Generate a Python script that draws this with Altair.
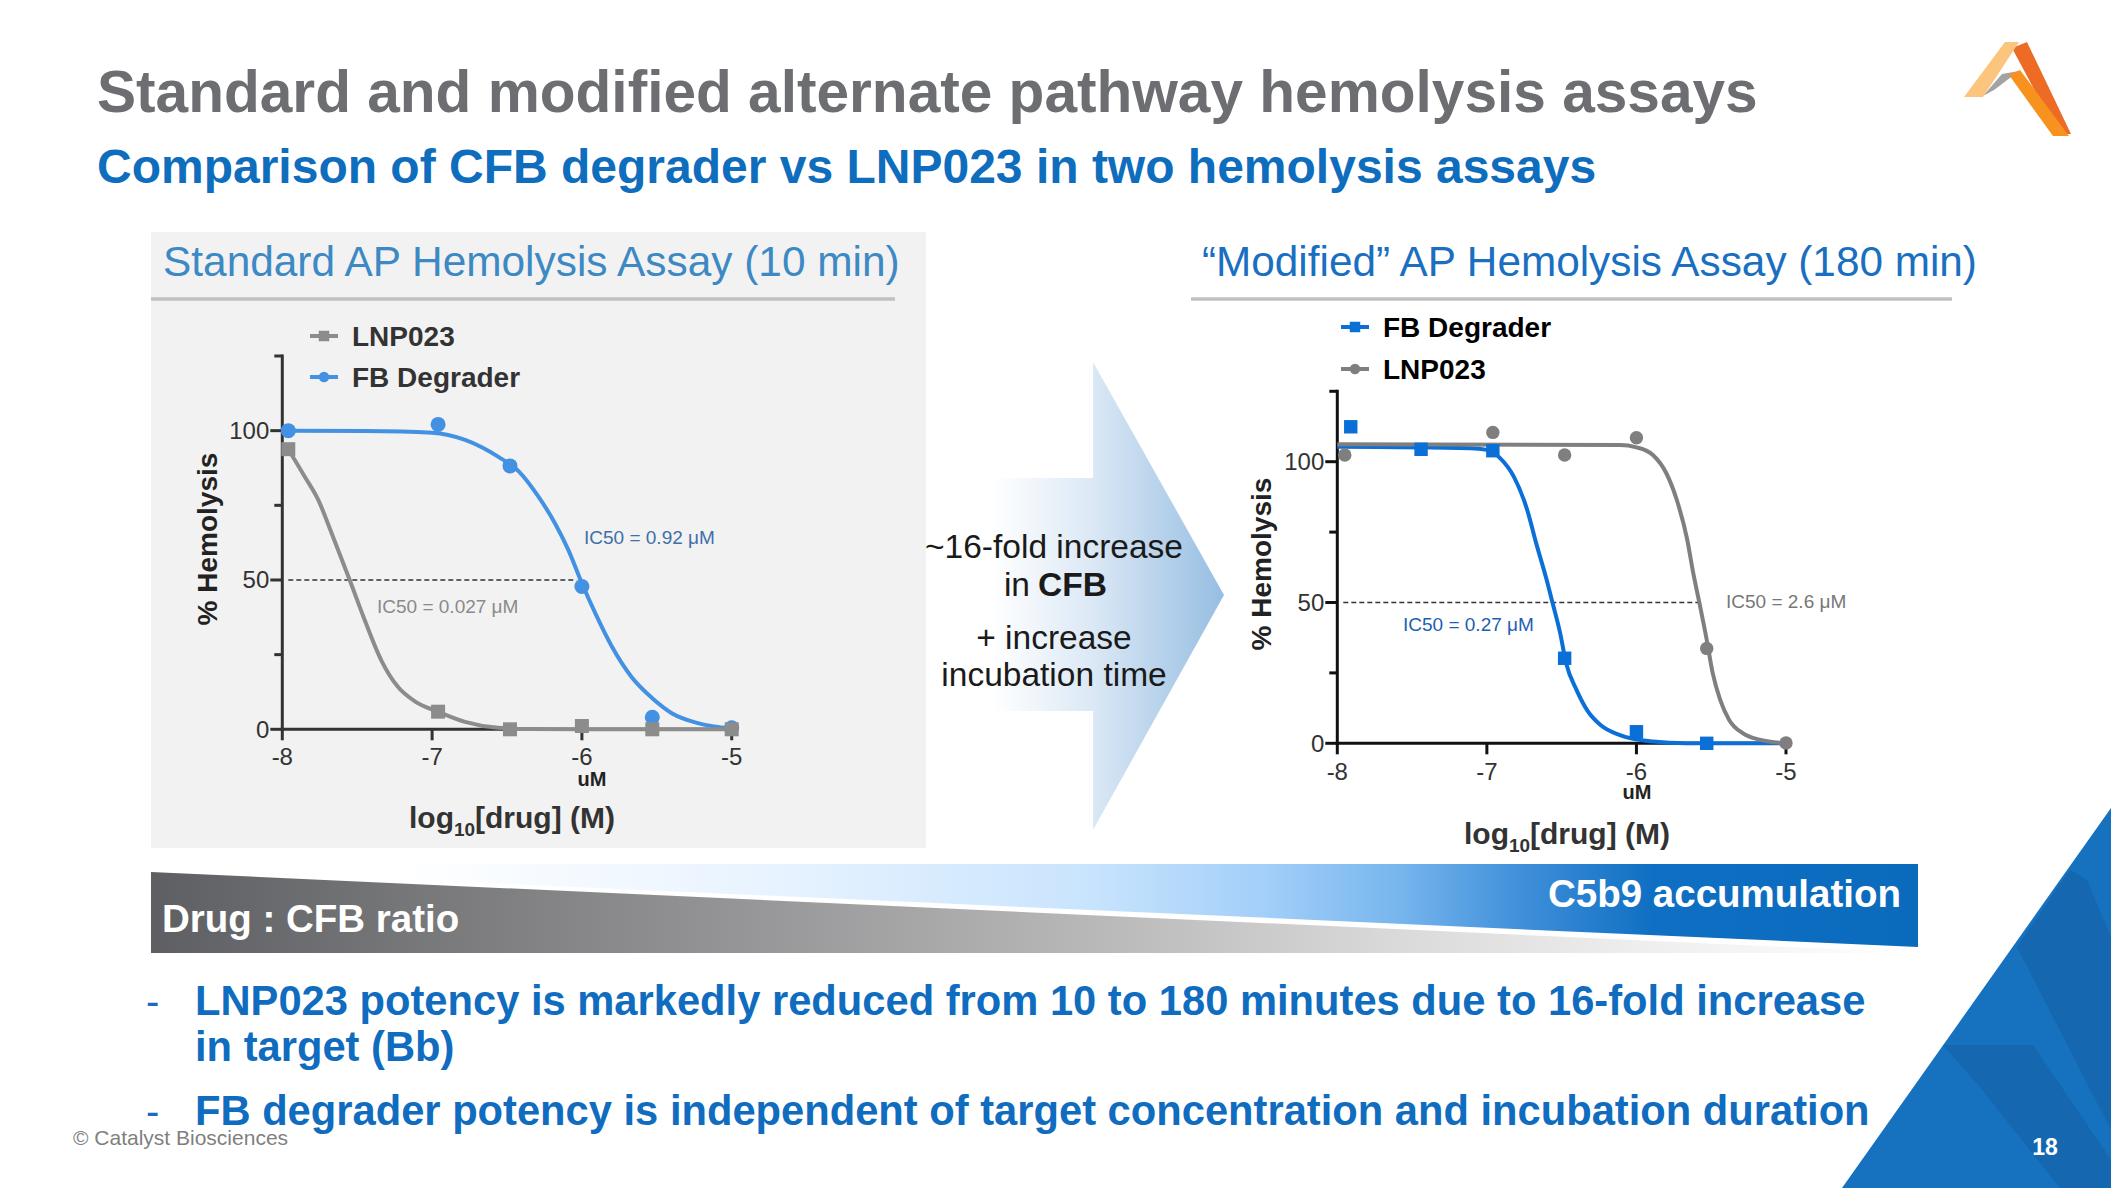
import math
import altair as alt
import pandas as pd

W, H = 2111, 1188
FONT = "Liberation Sans"

# ======================= DATA =======================
STD_SERIES = ["LNP023", "FB Degrader"]          # legend order, standard assay
MOD_SERIES = ["FB Degrader", "LNP023"]          # legend order, modified assay

# Standard AP hemolysis assay (10 min) - measured points (log10 M, % hemolysis)
STD_LNP_PTS_X = [-7.96, -6.96, -6.48, -6.00, -5.53, -5.00]
STD_LNP_PTS_Y = [93.8, 5.9, 0.0, 1.1, 0.0, 0.0]
STD_FB_PTS_X = [-7.96, -6.96, -6.48, -6.00, -5.53, -5.00]
STD_FB_PTS_Y = [100.0, 102.1, 88.2, 47.8, 4.0, 0.5]
# fitted curves
STD_LNP_FIT_X = [-7.96, -7.85, -7.76, -7.67, -7.55, -7.45, -7.34, -7.23, -7.11, -6.96,
                 -6.78, -6.56, -6.34, -6.00, -5.50, -5.00]
STD_LNP_FIT_Y = [93.8, 84.6, 76.8, 65.6, 50.0, 36.6, 23.2, 14.3, 9.2, 5.9,
                 2.5, 0.5, 0.1, 0.0, 0.0, 0.0]
STD_FB_FIT_X = [-7.96, -7.45, -7.00, -6.78, -6.56, -6.42, -6.29, -6.18, -6.09, -6.00,
                -5.91, -5.80, -5.67, -5.53, -5.40, -5.22, -5.00]
STD_FB_FIT_Y = [100.0, 99.9, 99.3, 96.9, 91.3, 86.3, 77.9, 69.0, 60.0, 48.9,
                38.8, 27.7, 17.6, 10.4, 5.4, 2.0, 0.3]

# "Modified" AP hemolysis assay (180 min)
MOD_FB_PTS_X = [-7.91, -7.44, -6.96, -6.48, -6.00, -5.53]
MOD_FB_PTS_Y = [112.4, 104.4, 103.9, 30.2, 4.1, 0.0]
MOD_LNP_PTS_X = [-7.95, -6.96, -6.48, -6.00, -5.53, -5.00]
MOD_LNP_PTS_Y = [102.4, 110.4, 102.4, 108.5, 33.7, 0.1]
MOD_FB_FIT_X = [-8.00, -7.11, -7.00, -6.91, -6.82, -6.73, -6.67, -6.60, -6.56, -6.51,
                -6.47, -6.40, -6.33, -6.24, -6.11, -5.89, -5.67, -5.00]
MOD_FB_FIT_Y = [105.3, 104.8, 104.2, 101.2, 94.7, 82.8, 71.0, 58.0, 49.7, 39.1,
                28.4, 18.9, 11.8, 6.5, 2.9, 0.6, 0.0, 0.0]
MOD_LNP_FIT_X = [-8.00, -6.11, -6.00, -5.89, -5.80, -5.73, -5.66, -5.62, -5.58, -5.53,
                 -5.49, -5.44, -5.38, -5.29, -5.17, -5.00]
MOD_LNP_FIT_Y = [106.2, 105.9, 105.1, 102.4, 95.9, 86.4, 72.2, 60.4, 50.1, 36.7,
                 24.9, 15.4, 8.3, 3.6, 1.2, 0.0]

STD_IC50_UM = {"LNP023": 0.027, "FB Degrader": 0.92}
MOD_IC50_UM = {"FB Degrader": 0.27, "LNP023": 2.6}

X_TICKS = [-8, -7, -6, -5]
X_TICK_LABELS = ["-8", "-7", "-6", "-5"]
Y_TICKS = [0, 50, 100]
Y_TICK_LABELS = ["0", "50", "100"]
Y_MINOR = [25, 75, 125]
X_DOMAIN = [-8, -5]
Y_DOMAIN = [0, 125]

TITLE = "Standard and modified alternate pathway hemolysis assays"
SUBTITLE = "Comparison of CFB degrader vs LNP023 in two hemolysis assays"
STD_TITLE = "Standard AP Hemolysis Assay (10 min)"
MOD_TITLE = "\u201cModified\u201d AP Hemolysis Assay (180 min)"
ARROW_LINES = ["~16-fold increase", "+ increase", "incubation time"]
BULLETS = ["LNP023 potency is markedly reduced from 10 to 180 minutes due to 16-fold increase",
           "in target (Bb)",
           "FB degrader potency is independent of target concentration and incubation duration"]

# ======================= LAYOUT (pixels) =======================
ONE = pd.DataFrame({"k": [0]})


def poly_rows(pts):
    xs = sorted(set(p[0] for p in pts))
    rows = []
    n = len(pts)
    for x in xs:
        ys = []
        for i in range(n):
            (x1, y1), (x2, y2) = pts[i], pts[(i + 1) % n]
            if abs(x1 - x2) < 1e-9:
                if abs(x - x1) < 1e-9:
                    ys += [y1, y2]
            elif min(x1, x2) - 1e-9 <= x <= max(x1, x2) + 1e-9:
                t = (x - x1) / (x2 - x1)
                ys.append(y1 + t * (y2 - y1))
        rows.append({"px": x, "top": min(ys), "bot": max(ys)})
    return pd.DataFrame(rows)


def poly(pts, fill):
    return alt.Chart(poly_rows(pts)).mark_area(orient="vertical", fill=fill, opacity=1, strokeWidth=0).encode(
        x=alt.X("px:Q", scale=None, axis=None),
        y=alt.Y("top:Q", scale=None, axis=None),
        y2="bot:Q")


def grad(stops):
    return alt.LinearGradient(gradient="linear", x1=0, x2=1, y1=0, y2=0,
                              stops=[alt.GradientStop(offset=o, color=c) for o, c in stops])


def texts(rows, **kw):
    df = pd.DataFrame(rows, columns=["px", "py", "text"])
    props = dict(font=FONT, baseline="alphabetic", align="left")
    props.update(kw)
    return alt.Chart(df).mark_text(**props).encode(
        x=alt.X("px:Q", scale=None, axis=None),
        y=alt.Y("py:Q", scale=None, axis=None),
        text="text:N")


def rect(x, x2, y, y2, color):
    return alt.Chart(ONE).mark_rect(color=color, opacity=1).encode(
        x=alt.value(x), x2=alt.value(x2), y=alt.value(y), y2=alt.value(y2))


def hline(x, x2, y, color, width):
    return alt.Chart(ONE).mark_rule(color=color, strokeWidth=width).encode(
        x=alt.value(x), x2=alt.value(x2), y=alt.value(y))


def plot_layers(cfg):
    XS = alt.Scale(domain=X_DOMAIN, range=[cfg["x0"], cfg["x1"]], nice=False, zero=False)
    YS = alt.Scale(domain=Y_DOMAIN, range=[cfg["y0"], cfg["y125"]], nice=False, zero=False)
    ac = cfg["axis_color"]
    L = []

    # axis lines
    L.append(alt.Chart(ONE).mark_rule(color=ac, strokeWidth=3, strokeCap="square").encode(
        x=alt.X(datum=X_DOMAIN[0], scale=XS, axis=None),
        y=alt.Y(datum=Y_DOMAIN[0], scale=YS, axis=None), y2=alt.Y2(datum=Y_DOMAIN[1])))
    L.append(alt.Chart(ONE).mark_rule(color=ac, strokeWidth=3, strokeCap="square").encode(
        x=alt.X(datum=X_DOMAIN[0], scale=XS, axis=None), x2=alt.X2(datum=X_DOMAIN[1]),
        y=alt.Y(datum=0, scale=YS, axis=None)))
    # y ticks
    L.append(alt.Chart(pd.DataFrame({"v": Y_TICKS})).mark_rule(color=ac, strokeWidth=3, x2Offset=-12).encode(
        x=alt.X(datum=X_DOMAIN[0], scale=XS, axis=None), x2=alt.X2(datum=X_DOMAIN[0]),
        y=alt.Y("v:Q", scale=YS, axis=None)))
    L.append(alt.Chart(pd.DataFrame({"v": Y_MINOR})).mark_rule(color=ac, strokeWidth=3, x2Offset=-8).encode(
        x=alt.X(datum=X_DOMAIN[0], scale=XS, axis=None), x2=alt.X2(datum=X_DOMAIN[0]),
        y=alt.Y("v:Q", scale=YS, axis=None)))
    # x ticks
    L.append(alt.Chart(pd.DataFrame({"v": X_TICKS})).mark_rule(color=ac, strokeWidth=3, y2Offset=11).encode(
        x=alt.X("v:Q", scale=XS, axis=None),
        y=alt.Y(datum=0, scale=YS, axis=None), y2=alt.Y2(datum=0)))
    # tick labels
    L.append(alt.Chart(pd.DataFrame({"v": Y_TICKS, "lab": Y_TICK_LABELS})).mark_text(
        font=FONT, fontSize=24, color="#333333", align="right", baseline="alphabetic",
        xOffset=-13, yOffset=8.5).encode(
        x=alt.X(datum=X_DOMAIN[0], scale=XS, axis=None),
        y=alt.Y("v:Q", scale=YS, axis=None), text="lab:N"))
    L.append(alt.Chart(pd.DataFrame({"v": X_TICKS, "lab": X_TICK_LABELS})).mark_text(
        font=FONT, fontSize=24, color="#333333", align="center", baseline="alphabetic",
        yOffset=cfg["xlab_off"]).encode(
        x=alt.X("v:Q", scale=XS, axis=None),
        y=alt.Y(datum=0, scale=YS, axis=None), text="lab:N"))

    # dashed IC50 guide
    dash_df = pd.DataFrame({"x": [cfg["dash_from"]],
                            "x2": [math.log10(cfg["ic50"][cfg["dash_series"]] * 1e-6)], "y": [50]})
    L.append(alt.Chart(dash_df).mark_rule(color="#333333", strokeWidth=1.3, strokeDash=[5, 3]).encode(
        x=alt.X("x:Q", scale=XS, axis=None), x2="x2:Q", y=alt.Y("y:Q", scale=YS, axis=None)))

    # fitted curves then points
    for name in cfg["draw_order"]:
        fx, fy = cfg["fit"][name]
        L.append(alt.Chart(pd.DataFrame({"x": fx, "y": fy})).mark_line(
            color=cfg["colors"][name], strokeWidth=4, interpolate="monotone").encode(
            x=alt.X("x:Q", scale=XS, axis=None), y=alt.Y("y:Q", scale=YS, axis=None)))
    for name in cfg["draw_order"]:
        px, py = cfg["pts"][name]
        L.append(alt.Chart(pd.DataFrame({"x": px, "y": py})).mark_point(
            shape=cfg["shapes"][name], filled=True, opacity=1, size=cfg["sizes"][name],
            color=cfg["colors"][name]).encode(
            x=alt.X("x:Q", scale=XS, axis=None), y=alt.Y("y:Q", scale=YS, axis=None)))

    # legend (series order from data)
    for i, name in enumerate(cfg["series"]):
        ly = cfg["leg_y"][i]
        L.append(alt.Chart(ONE).mark_rule(color=cfg["colors"][name], strokeWidth=4).encode(
            x=alt.value(cfg["leg_x0"]), x2=alt.value(cfg["leg_x0"] + 28), y=alt.value(ly)))
        L.append(alt.Chart(ONE).mark_point(shape=cfg["shapes"][name], filled=True, opacity=1, size=110,
                                           color=cfg["colors"][name]).encode(
            x=alt.value(cfg["leg_x0"] + 14), y=alt.value(ly)))
        L.append(texts([(cfg["leg_x0"] + 42, ly + 9.5, name)], fontSize=28, fontWeight="bold",
                       color=cfg["leg_color"]))

    # IC50 annotations
    for name in cfg["series"]:
        ax_, ay_ = cfg["ic50_pos"][name]
        L.append(texts([(ax_, ay_, f"IC50 = {cfg['ic50'][name]} \u03bcM")], fontSize=19,
                       color=cfg["ic50_colors"][name]))

    # axis titles
    L.append(texts([(cfg["ytitle_x"], cfg["ytitle_y"], "% Hemolysis")], fontSize=28, fontWeight="bold",
                   color="#222222", angle=270, align="center"))
    lx, lb = cfg["xtitle_x"], cfg["xtitle_base"]
    L.append(texts([(lx, lb, "log")], fontSize=30, fontWeight="bold", color="#333333"))
    L.append(texts([(lx + 45, lb + 8, "10")], fontSize=19, fontWeight="bold", color="#333333"))
    L.append(texts([(lx + 66, lb, "[drug] (M)")], fontSize=30, fontWeight="bold", color="#333333"))
    L.append(texts([(cfg["um_x"], cfg["um_base"], "uM")], fontSize=20, fontWeight="bold",
                   color="#222222", align="center"))
    return L


STD_CFG = dict(
    x0=282.3, x1=731.7, y0=729.3, y125=356.0, axis_color="#333333", xlab_off=36,
    series=STD_SERIES, draw_order=["FB Degrader", "LNP023"],
    colors={"LNP023": "#8c8c8c", "FB Degrader": "#4391e3"},
    shapes={"LNP023": "square", "FB Degrader": "circle"},
    sizes={"LNP023": 196, "FB Degrader": 225},
    fit={"LNP023": (STD_LNP_FIT_X, STD_LNP_FIT_Y), "FB Degrader": (STD_FB_FIT_X, STD_FB_FIT_Y)},
    pts={"LNP023": (STD_LNP_PTS_X, STD_LNP_PTS_Y), "FB Degrader": (STD_FB_PTS_X, STD_FB_PTS_Y)},
    ic50=STD_IC50_UM, dash_series="FB Degrader", dash_from=-7.96,
    ic50_pos={"LNP023": (377, 613), "FB Degrader": (584, 544)},
    ic50_colors={"LNP023": "#8a8a8a", "FB Degrader": "#3f6fa8"},
    leg_x0=310, leg_y=[336, 377], leg_color="#333333",
    ytitle_x=217, ytitle_y=539, xtitle_x=409, xtitle_base=828, um_x=592, um_base=786)

MOD_CFG = dict(
    x0=1337.3, x1=1786.0, y0=743.3, y125=391.3, axis_color="#111111", xlab_off=37,
    series=MOD_SERIES, draw_order=["FB Degrader", "LNP023"],
    colors={"FB Degrader": "#0b6fd8", "LNP023": "#7f7f7f"},
    shapes={"FB Degrader": "square", "LNP023": "circle"},
    sizes={"FB Degrader": 180, "LNP023": 180},
    fit={"LNP023": (MOD_LNP_FIT_X, MOD_LNP_FIT_Y), "FB Degrader": (MOD_FB_FIT_X, MOD_FB_FIT_Y)},
    pts={"LNP023": (MOD_LNP_PTS_X, MOD_LNP_PTS_Y), "FB Degrader": (MOD_FB_PTS_X, MOD_FB_PTS_Y)},
    ic50=MOD_IC50_UM, dash_series="LNP023", dash_from=-7.96,
    ic50_pos={"FB Degrader": (1403, 631), "LNP023": (1726, 608)},
    ic50_colors={"FB Degrader": "#1d5fb0", "LNP023": "#777777"},
    leg_x0=1341, leg_y=[327, 369], leg_color="#000000",
    ytitle_x=1271, ytitle_y=564, xtitle_x=1464, xtitle_base=844, um_x=1637, um_base=799)

layers = []

# left panel background and headers
layers.append(rect(151, 926, 232, 848, "#f2f2f2"))
layers.append(hline(151, 895, 299, "#c0c0c0", 3.5))
layers.append(hline(1191, 1952, 299, "#c0c0c0", 3.5))

# arrow
layers.append(alt.Chart(ONE).mark_rect(opacity=1, fill=grad([(0, "#ffffff"), (0.4, "#ffffff"), (1, "#dbe8f5")])).encode(
    x=alt.value(926), x2=alt.value(1093), y=alt.value(478), y2=alt.value(711)))
layers.append(poly([(1093, 362), (1224, 595), (1093, 830)], grad([(0, "#dbe8f5"), (1, "#96bee2")])))

# banner
layers.append(poly([(151, 864), (1918, 864), (1918, 947), (151, 868)],
                   grad([(0, "#ffffff"), (0.14, "#ffffff"), (0.35, "#e8f3ff"), (0.53, "#c9e4fd"),
                         (0.63, "#a3cff9"), (0.705, "#78b6ee"), (0.776, "#3f8fd9"), (0.85, "#0f6fc3"),
                         (1, "#0a6abc")])))
layers.append(poly([(151, 872), (1918, 953), (151, 953)],
                   grad([(0, "#5e5f62"), (0.35, "#98989a"), (0.56, "#bdbdbd"), (0.7, "#d9d9d9"),
                         (0.85, "#efefef"), (1, "#ffffff")])))

# corner decoration
layers.append(poly([(2111, 808), (2111, 1188), (1842, 1188)], "#1671be"))
layers.append(poly([(2017, 947), (2070, 870), (2087, 880), (2111, 937), (2111, 1130)], "#1567b0"))
layers.append(poly([(1943, 1045), (2033, 1045), (2111, 1160), (2111, 1188), (2060, 1188), (1980, 1087)], "#1567b0"))

# logo
layers.append(poly([(2012, 48), (2027, 42), (2071, 134), (2058, 134)], "#ee6b25"))
layers.append(poly([(1983, 96), (2002, 74), (2019, 71), (1994, 90)], "#a3a3a3"))
layers.append(poly([(2009, 75), (2020, 70), (2069, 136), (2053, 136)], "#f7921f"))
layers.append(poly([(1964, 97), (2005, 42), (2019, 42), (1983, 97)], "#fbc57d"))

# plots
layers += plot_layers(STD_CFG)
layers += plot_layers(MOD_CFG)

# titles
layers.append(texts([(97, 112, TITLE)], fontSize=58.6, fontWeight="bold", color="#6d6e71"))
layers.append(texts([(97, 183, SUBTITLE)], fontSize=48, fontWeight="bold", color="#0f6dbd"))
layers.append(texts([(163, 276, STD_TITLE)], fontSize=42.4, color="#3d89c4"))
layers.append(texts([(1202, 276, MOD_TITLE)], fontSize=42.3, color="#1a6fc1"))

# arrow text
layers.append(texts([(1054, 558, ARROW_LINES[0]), (1054, 649, ARROW_LINES[1]), (1054, 686, ARROW_LINES[2])],
                    fontSize=33.5, color="#1a1a1a", align="center"))
layers.append(texts([(1030, 596, "in")], fontSize=33.5, color="#1a1a1a", align="right"))
layers.append(texts([(1038, 596, "CFB")], fontSize=33.5, fontWeight="bold", color="#1a1a1a"))

# banner text
layers.append(texts([(162, 932, "Drug : CFB ratio")], fontSize=38.5, fontWeight="bold", color="#ffffff"))
layers.append(texts([(1901, 907, "C5b9 accumulation")], fontSize=38.5, fontWeight="bold", color="#ffffff",
                    align="right"))

# bullets
layers.append(texts([(146, 1015, "-"), (146, 1125, "-")], fontSize=40, color="#1a6cbd"))
layers.append(texts([(195, 1015, BULLETS[0]), (195, 1061, BULLETS[1]), (195, 1125, BULLETS[2])],
                    fontSize=41.7, fontWeight="bold", color="#0f6cbf"))

# footer
layers.append(texts([(73, 1145, "\u00a9 Catalyst Biosciences")], fontSize=21, color="#7f7f7f"))
layers.append(texts([(2045, 1155, "18")], fontSize=23, fontWeight="bold", color="#ffffff", align="center"))

chart = alt.layer(*layers).resolve_scale(x="independent", y="independent").properties(
    width=W, height=H, padding=0, background="white",
    autosize=alt.AutoSizeParams(type="none")
).configure_view(stroke=None)

chart.save("out.html", embed_options={"renderer": "svg", "actions": False})
